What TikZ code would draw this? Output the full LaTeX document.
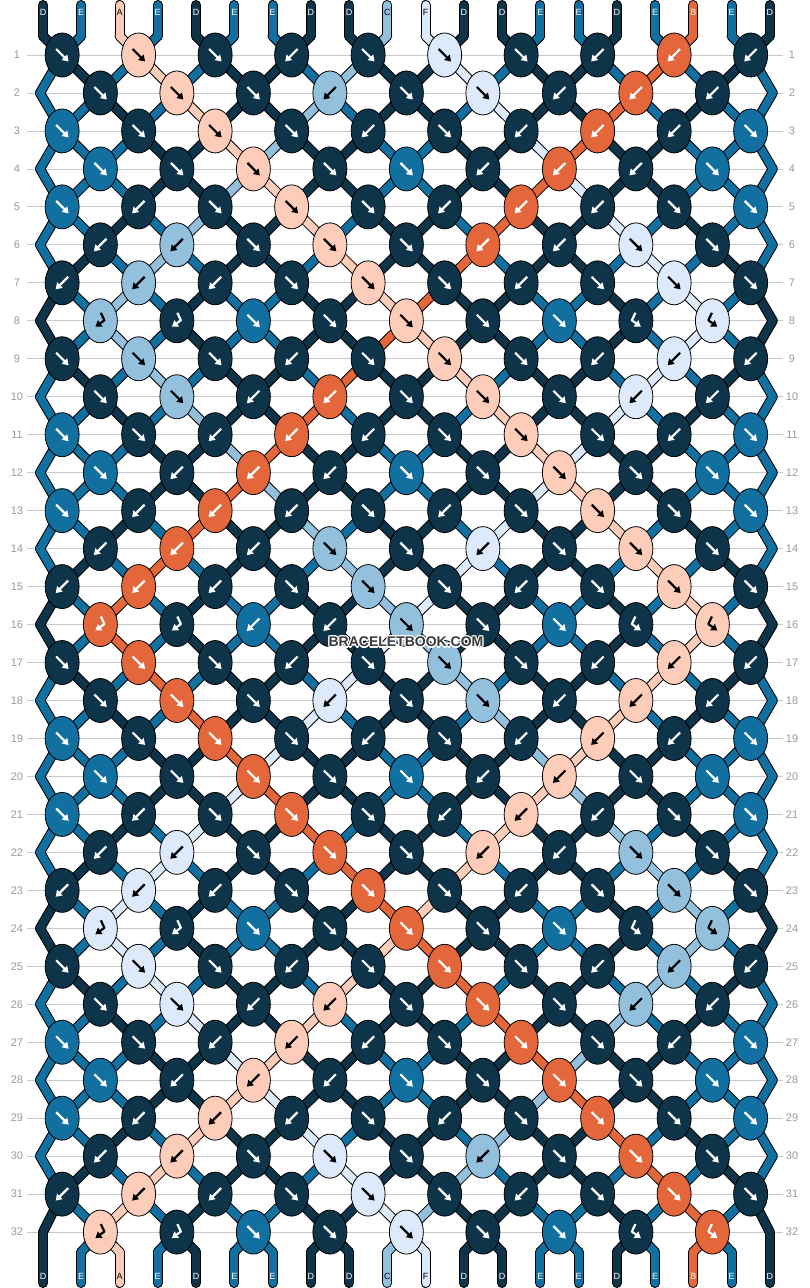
\documentclass[tikz,border=0pt]{standalone}
\usepackage{fontspec}
\setmainfont{Liberation Sans}
\usetikzlibrary{arrows.meta,shapes.geometric}
\definecolor{cD}{HTML}{0D3448}
\definecolor{cE}{HTML}{1170A0}
\definecolor{cA}{HTML}{FDCDB9}
\definecolor{cB}{HTML}{E3673B}
\definecolor{cC}{HTML}{92C0DD}
\definecolor{cF}{HTML}{DCEAFC}
\colorlet{tD}{white}\colorlet{tE}{white}\colorlet{tB}{white}
\colorlet{tA}{black}\colorlet{tC}{black}\colorlet{tF}{black}
\definecolor{rowgray}{HTML}{C8C8C8}
\definecolor{numgray}{HTML}{9A9A9A}
\definecolor{wmgray}{HTML}{3A3A3A}
\tikzset{
  knot/.style={ellipse, draw=black, line width=0.8pt, minimum width=34pt, minimum height=44pt, inner sep=0pt},
  strout/.style={line width=10pt, draw=black, line cap=round},
  strin/.style={line width=8pt, line cap=round},
  arr/.style={line width=2.2pt, line join=round, -{Triangle[length=6pt,width=7.5pt]}},
  rowline/.style={draw=rowgray, line width=0.8pt},
  rowlbl/.style={text=numgray, font=\fontsize{11}{11}\selectfont, inner sep=0pt},
  strlbl/.style={font=\fontsize{9}{9}\selectfont, inner sep=0pt},
  wmark/.style={text=wmgray, font=\bfseries\fontsize{14}{14}\selectfont, inner sep=0pt},
  wmhalo/.style={text=white, font=\bfseries\fontsize{14}{14}\selectfont, inner sep=0pt}
}
\newcommand\setc[3]{\expandafter\xdef\csname c-#1-#2\endcsname{#3}}
\newcommand\getc[2]{\csname c-#1-#2\endcsname}
\newcommand\ptof[2]{%
  \pgfmathsetmacro\py{(#1==0) ? 36 : ((#1==33) ? 1252 : 55+37.97*(#1-1))}%
  \pgfmathsetmacro\px{((#1==0) || (#1==33)) ? 43+38.25*(#2-1) : ((mod(#1,2)==1) ? 43+76.5*int((#2+1)/2)-57.375 : ((#2==1) ? ((#1==32) ? 43 : 40) : ((#2==20) ? ((#1==32) ? 769.75 : 772.75) : 43+76.5*int(#2/2)-19.125)))}%
}
\begin{document}
\begin{tikzpicture}[x=1pt,y=-1pt]
\useasboundingbox (0,0) rectangle (810,1288);
\fill[white] (0,0) rectangle (810,1288);
% ---------- simulation of the strings ----------
\foreach \v [count=\po] in {D,E,A,E,D,E,E,D,D,C,F,D,D,E,E,D,E,B,E,D} {\setc{0}{\po}{\v}}
\foreach \ri/\tl in {
1/{f,f,f,b,f,f,f,b,b,b},
2/{f,f,f,b,f,f,b,b,b},
3/{f,f,f,f,b,f,b,b,b,f},
4/{f,f,f,f,f,b,b,b,f},
5/{f,b,f,f,f,b,b,b,f,f},
6/{b,b,f,f,f,b,b,f,f},
7/{b,b,b,f,f,f,b,f,f,f},
8/{B,B,f,f,f,f,f,F,F},
9/{f,f,f,b,f,f,f,b,b,b},
10/{f,f,b,b,f,f,f,b,b},
11/{f,f,b,b,b,f,f,f,b,f},
12/{f,b,b,b,f,f,f,f,f},
13/{f,b,b,b,f,b,f,f,f,f},
14/{b,b,b,f,f,b,f,f,f},
15/{b,b,b,f,f,f,b,f,f,f},
16/{B,B,b,b,f,f,f,F,F},
17/{f,f,f,b,f,f,f,b,b,b},
18/{f,f,f,b,f,f,b,b,b},
19/{f,f,f,f,b,f,b,b,b,f},
20/{f,f,f,f,f,b,b,f,f},
21/{f,b,f,f,f,b,b,b,f,f},
22/{b,b,f,f,f,b,b,f,f},
23/{b,b,b,f,f,f,b,f,f,f},
24/{B,B,f,f,f,f,f,F,F},
25/{f,f,f,b,f,f,f,b,b,b},
26/{f,f,b,b,f,f,f,b,b},
27/{f,f,b,b,b,f,f,f,b,f},
28/{f,b,b,b,f,f,f,f,f},
29/{f,b,b,b,f,b,f,f,f,f},
30/{b,b,f,f,f,b,f,f,f},
31/{b,b,b,f,f,f,b,f,f,f},
32/{B,B,f,f,f,f,f,F,F}} {
  \pgfmathtruncatemacro\rp{\ri-1}
  \foreach \po in {1,...,20} {\setc{\ri}{\po}{\getc{\rp}{\po}}}
  \foreach \ty [count=\kk] in \tl {
    \pgfmathtruncatemacro\pp{2*\kk-mod(\ri,2)}
    \pgfmathtruncatemacro\qq{\pp+1}
    \edef\lcol{\getc{\rp}{\pp}}\edef\rcol{\getc{\rp}{\qq}}
    \expandafter\xdef\csname T-\ri-\kk\endcsname{\ty}
    \if f\ty \setc{\ri}{\pp}{\rcol}\setc{\ri}{\qq}{\lcol}\expandafter\xdef\csname K-\ri-\kk\endcsname{\lcol}\fi
    \if b\ty \setc{\ri}{\pp}{\rcol}\setc{\ri}{\qq}{\lcol}\expandafter\xdef\csname K-\ri-\kk\endcsname{\rcol}\fi
    \if F\ty \expandafter\xdef\csname K-\ri-\kk\endcsname{\lcol}\fi
    \if B\ty \expandafter\xdef\csname K-\ri-\kk\endcsname{\rcol}\fi
  }
}
% ---------- row lines and numbers ----------
\foreach \ri in {1,...,32} {
  \pgfmathsetmacro\yy{55+37.97*(\ri-1)}
  \draw[rowline] (27,\yy) -- (783,\yy);
  \node[rowlbl] (RL-\ri) at (17,\yy) {\ri};
  \node[rowlbl] (RR-\ri) at (792,\yy) {\ri};
}
% ---------- named points ----------
\foreach \ri in {0,...,33} {\foreach \po in {1,...,20} {\ptof{\ri}{\po}\coordinate (P-\ri-\po) at (\px,\py);}}
\foreach \po in {1,...,20} {\pgfmathsetmacro\xs{43+38.25*(\po-1)}\coordinate (T-\po) at (\xs,5); \coordinate (U-\po) at (\xs,1283);}
% ---------- strings: outlines ----------
\foreach \ri in {0,...,32} {\pgfmathtruncatemacro\rn{\ri+1}
  \foreach \po in {1,...,20} {\draw[strout] (P-\ri-\po) -- (P-\rn-\po);}}
\foreach \po in {1,...,20} {\draw[strout] (T-\po) -- (P-0-\po); \draw[strout] (P-33-\po) -- (U-\po);}
% ---------- strings: colours ----------
\foreach \ri in {0,...,32} {\pgfmathtruncatemacro\rn{\ri+1}
  \foreach \po in {1,...,20} {\edef\cn{c\getc{\ri}{\po}}\draw[strin, draw=\cn] (P-\ri-\po) -- (P-\rn-\po);}}
\foreach \po in {1,...,20} {\edef\cn{c\getc{0}{\po}}\draw[strin, draw=\cn] (T-\po) -- (P-0-\po);
  \edef\cn{c\getc{32}{\po}}\draw[strin, draw=\cn] (P-33-\po) -- (U-\po);}
% ---------- string labels ----------
\foreach \po in {1,...,20} {\pgfmathsetmacro\xs{43+38.25*(\po-1)}
  \edef\lt{\getc{0}{\po}}\edef\tn{t\lt}
  \node[strlbl, text=\tn] (LT-\po) at (\xs,12) {\lt};
  \edef\lt{\getc{32}{\po}}\edef\tn{t\lt}
  \node[strlbl, text=\tn] (LB-\po) at (\xs,1276) {\lt};}
% ---------- knots ----------
\foreach \ri in {1,...,32} {
  \pgfmathtruncatemacro\nk{9+mod(\ri,2)}
  \foreach \kk in {1,...,\nk} {
    \pgfmathtruncatemacro\pp{2*\kk-mod(\ri,2)}
    \edef\kc{\csname K-\ri-\kk\endcsname}\edef\kt{\csname T-\ri-\kk\endcsname}
    \edef\cn{c\kc}\edef\tn{t\kc}
    \node[knot, fill=\cn] (K-\ri-\kk) at (P-\ri-\pp) {};
    \begin{scope}[shift={(K-\ri-\kk.center)}]
      \if f\kt \draw[arr, draw=\tn] (-6,-6) -- (6.5,6.5);\fi
      \if b\kt \draw[arr, draw=\tn] (6,-6) -- (-6.5,6.5);\fi
      \if F\kt \draw[arr, draw=\tn] (-0.5,-8) -- (-4,-0.5) -- (5,6);\fi
      \if B\kt \draw[arr, draw=\tn] (0.5,-8) -- (4,-0.5) -- (-5,6);\fi
    \end{scope}
  }
}
% ---------- watermark ----------
\foreach \dx/\dy [count=\hh] in {-1.2/0,1.2/0,0/-1.2,0/1.2,-0.9/-0.9,0.9/0.9,-0.9/0.9,0.9/-0.9} {
  \node[wmhalo] (wh-\hh) at (406+\dx,642+\dy) {BRACELETBOOK.COM};}
\node[wmark] (wm) at (406,642) {BRACELETBOOK.COM};
\end{tikzpicture}
\end{document}
